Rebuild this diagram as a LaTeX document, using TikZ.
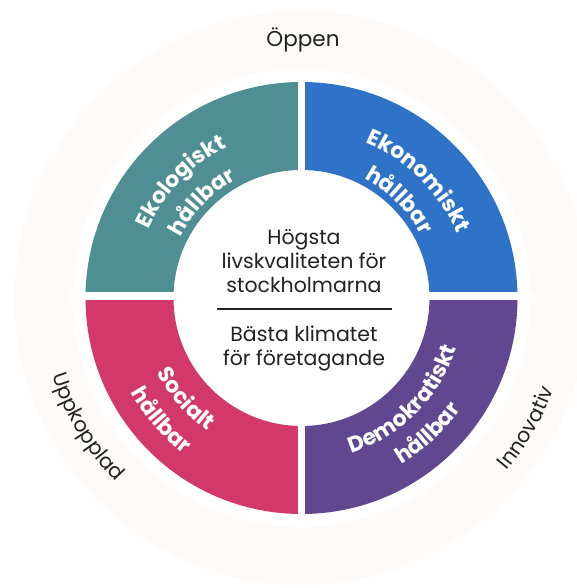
\documentclass[tikz,border=0pt]{standalone}
\usepackage{fontspec}
\setmainfont{Poppins}
\newfontfamily\labfont{Poppins}
\usetikzlibrary{decorations.text}
\definecolor{tealc}{HTML}{4F8F94}
\definecolor{bluec}{HTML}{2F73C8}
\definecolor{pinkc}{HTML}{D2386A}
\definecolor{purplec}{HTML}{614790}
\definecolor{beigec}{HTML}{FEFAF7}
\definecolor{inkc}{HTML}{222222}
\tikzset{
  ctext/.style={anchor=base, inner sep=0pt, text=inkc, font=\fontsize{20.5}{24}\selectfont},
  outer/.style={anchor=base, inner sep=0pt, text=inkc, font=\fontsize{21.5}{24}\selectfont},
}
\newcommand{\qlab}{\labfont\bfseries\fontsize{22}{22}\selectfont\color{white}}
\newcommand{\olab}{\fontsize{20.5}{20.5}\selectfont\color{inkc}}
\begin{document}
\begin{tikzpicture}[x=1pt,y=1pt]
\useasboundingbox (0,0) rectangle (577,588);
\fill[white] (0,0) rectangle (577,588);
\coordinate (C) at (301.5,290);
\fill[beigec] (C) circle[radius=287pt];
\fill[white] (C) circle[radius=229pt];
% quadrants
\fill[tealc] ([shift={(90:216pt)}]C) arc[start angle=90,end angle=180,radius=216pt]
  -- ([shift={(180:128pt)}]C) arc[start angle=180,end angle=90,radius=128pt] -- cycle;
\fill[bluec] ([shift={(0:216pt)}]C) arc[start angle=0,end angle=90,radius=216pt]
  -- ([shift={(90:128pt)}]C) arc[start angle=90,end angle=0,radius=128pt] -- cycle;
\fill[pinkc] ([shift={(180:216pt)}]C) arc[start angle=180,end angle=270,radius=216pt]
  -- ([shift={(270:128pt)}]C) arc[start angle=270,end angle=180,radius=128pt] -- cycle;
\fill[purplec] ([shift={(270:216pt)}]C) arc[start angle=270,end angle=360,radius=216pt]
  -- ([shift={(0:128pt)}]C) arc[start angle=360,end angle=270,radius=128pt] -- cycle;
% gaps
\fill[white] (298,60) rectangle (305,520);
\fill[white] (70,288) rectangle (535,296);
% quadrant labels
\path[decorate,decoration={text along path,text align=center,text={|\qlab|Ekologiskt}}]
  ([shift={(181:168pt)}]C) arc[start angle=181,end angle=91,radius=168pt];
\path[decorate,decoration={text along path,text align=center,text={|\qlab|hållbar}}]
  ([shift={(181:135pt)}]C) arc[start angle=181,end angle=91,radius=135pt];
\path[decorate,decoration={text along path,text align=center,text={|\qlab|Ekonomiskt}}]
  ([shift={(90:168pt)}]C) arc[start angle=90,end angle=0,radius=168pt];
\path[decorate,decoration={text along path,text align=center,text={|\qlab|hållbar}}]
  ([shift={(90:135pt)}]C) arc[start angle=90,end angle=0,radius=135pt];
\path[decorate,decoration={text along path,text align=center,text={|\qlab|Socialt}}]
  ([shift={(176:163pt)}]C) arc[start angle=176,end angle=266,radius=163pt];
\path[decorate,decoration={text along path,text align=center,text={|\qlab|hållbar}}]
  ([shift={(176:195pt)}]C) arc[start angle=176,end angle=266,radius=195pt];
\path[decorate,decoration={text along path,text align=center,text={|\qlab|Demokratiskt}}]
  ([shift={(270:163pt)}]C) arc[start angle=270,end angle=360,radius=163pt];
\path[decorate,decoration={text along path,text align=center,text={|\qlab|hållbar}}]
  ([shift={(268:194pt)}]C) arc[start angle=268,end angle=358,radius=194pt];
% center text
\node[ctext] (l1) at (304,343) {Högsta};
\node[ctext] (l2) at (304,319) {livskvaliteten för};
\node[ctext] (l3) at (304,295) {stockholmarna};
\coordinate (sa) at (217,279);
\coordinate (sb) at (392,279);
\draw[inkc, line width=2.2pt] (sa) -- (sb);
\node[ctext] (l4) at (304,246) {Bästa klimatet};
\node[ctext] (l5) at (304,222) {för företagande};
% outer labels
\node[outer] (open) at (303,541) {Öppen};
\path[decorate,decoration={text along path,text align=center,text={|\olab|Uppkopplad}}]
  ([shift={(171:261pt)}]C) arc[start angle=171,end angle=251,radius=261pt];
\path[decorate,decoration={text along path,text align=center,text={|\olab|Innovativ}}]
  ([shift={(-70:268pt)}]C) arc[start angle=-70,end angle=10,radius=268pt];
\end{tikzpicture}
\end{document}
